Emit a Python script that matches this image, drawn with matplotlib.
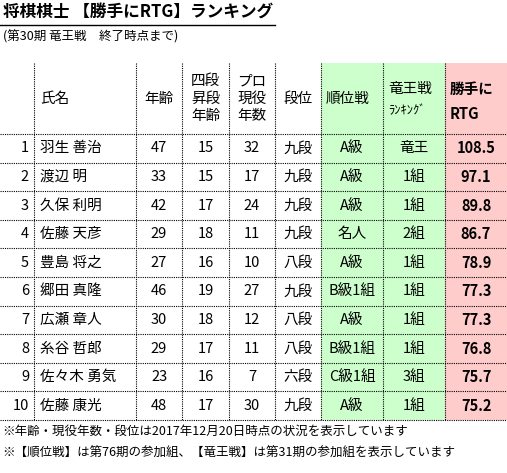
import matplotlib
matplotlib.use("Agg")
import matplotlib.pyplot as plt
from matplotlib.patches import Rectangle

plt.rcParams['font.family'] = ['Noto Sans CJK JP', 'DejaVu Sans']

ranks = list(range(1, 11))
names = ["羽生 善治", "渡辺 明", "久保 利明", "佐藤 天彦", "豊島 将之", "郷田 真隆", "広瀬 章人", "糸谷 哲郎", "佐々木 勇気", "佐藤 康光"]
ages = [47, 33, 42, 29, 27, 46, 30, 29, 23, 48]
yondan_age = [15, 15, 17, 18, 16, 19, 18, 17, 16, 17]
pro_years = [32, 17, 24, 11, 10, 27, 12, 11, 7, 30]
dan = ["九段", "九段", "九段", "九段", "八段", "九段", "八段", "八段", "六段", "九段"]
junisen = ["A級", "A級", "A級", "名人", "A級", "B級1組", "A級", "B級1組", "C級1組", "A級"]
ryuo = ["竜王", "1組", "1組", "2組", "1組", "1組", "1組", "1組", "3組", "1組"]
rtg = [108.5, 97.1, 89.8, 86.7, 78.9, 77.3, 77.3, 76.8, 75.7, 75.2]

fig = plt.figure(figsize=(5.07, 4.73), dpi=100)
ax = fig.add_axes([0, 0, 1, 1])
ax.set_xlim(0, 507); ax.set_ylim(473, 0); ax.axis('off')

xs = [0, 34, 136, 182, 229, 275, 321, 383, 445, 507]
top, hb, rh = 63, 134, 28.6
bottom = hb + rh * 10
green, pink = "#ccffcc", "#ffcccc"
ax.add_patch(Rectangle((xs[6], top), xs[8]-xs[6], bottom-top, color=green, lw=0))
ax.add_patch(Rectangle((xs[8], top), xs[9]-xs[8], bottom-top, color=pink, lw=0))

for x in xs[1:-1]:
    ax.plot([x, x], [top, bottom], color='black', lw=0.8, ls=(0, (1, 1)))
for i in range(11):
    y = hb + rh * i
    ax.plot([0, 507], [y, y], color='black', lw=0.8, ls=(0, (1, 1)))

ax.text(3, 13, "将棋棋士 【勝手にRTG】ランキング", fontsize=12, fontweight='bold', va='center')
ax.plot([0, 275], [25, 25], color='black', lw=1)
ax.text(3, 37, "(第30期 竜王戦　終了時点まで)", fontsize=9, va='center')

fs = 10.5
hy = (top + hb) / 2
def cx(i): return (xs[i] + xs[i+1]) / 2
ax.text(40, hy, "氏名", fontsize=fs, va='center')
ax.text(cx(2), hy, "年齢", fontsize=fs, va='center', ha='center')
ax.text(cx(3), hy, "四段\n昇段\n年齢", fontsize=fs, va='center', ha='center', linespacing=1.3)
ax.text(cx(4), hy, "プロ\n現役\n年数", fontsize=fs, va='center', ha='center', linespacing=1.3)
ax.text(cx(5), hy, "段位", fontsize=fs, va='center', ha='center')
ax.text(xs[6]+5, hy, "順位戦", fontsize=fs, va='center')
ax.text(xs[7]+5, hy-10, "竜王戦", fontsize=fs, va='center')
ax.text(xs[7]+5, hy+12, "ﾗﾝｷﾝｸﾞ", fontsize=9, va='center')
ax.text(xs[8]+5, hy-10, "勝手に", fontsize=fs, va='center', fontweight='bold')
ax.text(xs[8]+5, hy+15, "RTG", fontsize=fs, va='center', fontweight='bold')

for i in range(10):
    y = hb + rh * i + rh / 2
    ax.text(29, y, str(ranks[i]), fontsize=fs, va='center', ha='right')
    ax.text(40, y, names[i], fontsize=fs, va='center')
    ax.text(cx(2), y, str(ages[i]), fontsize=fs, va='center', ha='center')
    ax.text(cx(3), y, str(yondan_age[i]), fontsize=fs, va='center', ha='center')
    ax.text(cx(4), y, str(pro_years[i]), fontsize=fs, va='center', ha='center')
    ax.text(cx(5), y, dan[i], fontsize=fs, va='center', ha='center')
    ax.text(cx(6), y, junisen[i], fontsize=fs, va='center', ha='center')
    ax.text(cx(7), y, ryuo[i], fontsize=fs, va='center', ha='center')
    ax.text(cx(8), y, f"{rtg[i]:.1f}", fontsize=fs, va='center', ha='center', fontweight='bold')

ax.text(2, bottom + 11, "※年齢・現役年数・段位は2017年12月20日時点の状況を表示しています", fontsize=9, va='center')
ax.text(2, bottom + 33, "※【順位戦】は第76期の参加組、【竜王戦】は第31期の参加組を表示しています", fontsize=9, va='center')

fig.savefig("out.png", dpi=100)
